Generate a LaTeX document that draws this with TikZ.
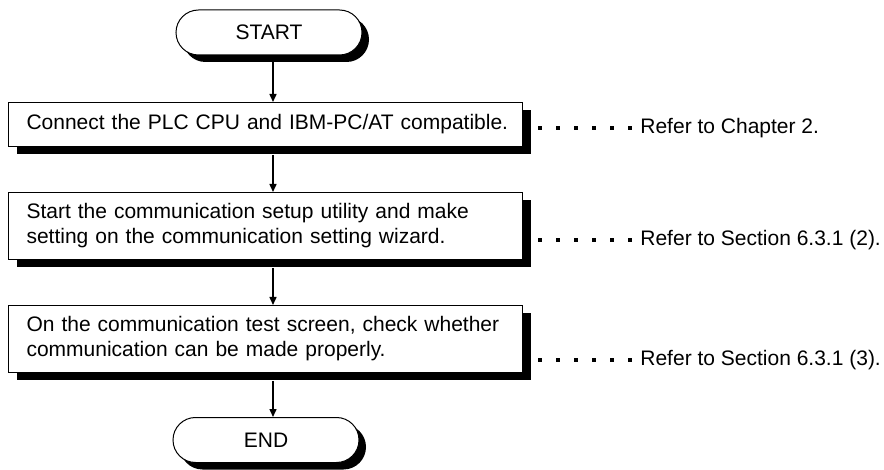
\documentclass[tikz,border=0pt]{standalone}
\usepackage{fontspec}
\setmainfont{Liberation Sans}
\usetikzlibrary{arrows.meta,positioning,calc,shadows}

\begin{document}
\begin{tikzpicture}[x=0.5pt,y=-0.5pt,
  term/.style={draw,line width=0.5pt,fill=white,rounded corners=11.25pt,minimum width=93pt,minimum height=22.5pt,inner sep=0pt,font=\fontsize{10.5}{12.5}\selectfont,drop shadow={shadow xshift=3.5pt,shadow yshift=-3.5pt,fill=black,opacity=1}},
  stepbox/.style={draw,line width=0.5pt,fill=white,anchor=north west,text width=243pt,inner xsep=7pt,inner ysep=0pt,align=left,font=\fontsize{10.5}{12.5}\selectfont,drop shadow={shadow xshift=4pt,shadow yshift=-4pt,fill=black,opacity=1}},
  flow/.style={-{Triangle[length=4pt,width=3.5pt]},line width=0.75pt},
  leader/.style={line width=2pt,dash pattern=on 2pt off 7pt},
  note/.style={anchor=west,inner sep=0pt,font=\fontsize{10.5}{12.5}\selectfont}]
\useasboundingbox (0,0) rectangle (884,470);
\coordinate (axis) at (273,0);
% terminals
\node[term] (start) at (269,32.5) {START};
\node[term] (end) at (266,440) {END};
% steps
\node[stepbox,minimum height=22pt] (conn) at (8,102) {\hspace*{2pt}Connect the PLC CPU and IBM-PC/AT compatible.};
\node[stepbox,minimum height=33.5pt] (setup) at (8,192) {\hspace*{2pt}Start the communication setup utility and make\\\hspace*{2pt}setting on the communication setting wizard.};
\node[stepbox,minimum height=33.5pt] (test) at (8,305) {\hspace*{2pt}On the communication test screen, check whether\\\hspace*{2pt}communication can be made properly.};
% references
\node[note] (refconn) at (640,128) {Refer to Chapter 2.};
\node[note] (refsetup) at (640,240) {Refer to Section 6.3.1 (2).};
\node[note] (reftest) at (640,360) {Refer to Section 6.3.1 (3).};
\coordinate (dconn) at (538,128);
\coordinate (dsetup) at (538,240);
\coordinate (dtest) at (538,360);
\draw[leader] (dconn) -- (refconn.west);
\draw[leader] (dsetup) -- (refsetup.west);
\draw[leader] (dtest) -- (reftest.west);
% flow
\draw[flow] ($(start.south -| axis)+(0,-3.5pt)$) -- (axis |- conn.north);
\draw[flow] ($(conn.south -| axis)+(0,-4pt)$) -- (axis |- setup.north);
\draw[flow] ($(setup.south -| axis)+(0,-4pt)$) -- (axis |- test.north);
\draw[flow] ($(test.south -| axis)+(0,-4pt)$) -- (axis |- end.north);
\end{tikzpicture}
\end{document}
